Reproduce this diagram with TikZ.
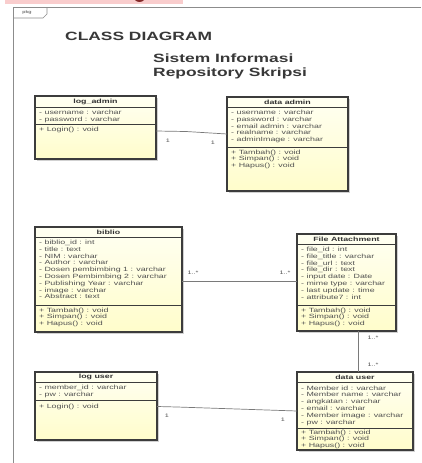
\documentclass[tikz,border=0pt]{standalone}
\usepackage{fontspec}
\setmainfont{Liberation Sans}[FakeStretch=1.45]
\usetikzlibrary{calc}
\definecolor{boxline}{HTML}{3C3C3C}
\definecolor{txt}{HTML}{505050}
\definecolor{conn}{HTML}{7A7A7A}
\definecolor{frame}{HTML}{8C8C8C}
\definecolor{pinkbar}{HTML}{F9CDCD}
\definecolor{ytop}{HTML}{FFFFF2}
\definecolor{ybot}{HTML}{FFFDCB}
\tikzset{
  cls/.style={draw=boxline, line width=1.2pt, top color=ytop, bottom color=ybot,
     inner sep=0pt, outer sep=0pt, anchor=north west},
  shadowbox/.style={fill=black!18, draw=none},
  sepline/.style={draw=boxline, line width=0.8pt},
  attr/.style={inner sep=0pt, text=txt, font=\fontsize{6.1}{6.8}\selectfont},
  ctitle/.style={inner sep=0pt, text=black!80, font=\bfseries\fontsize{6.1}{6.8}\selectfont},
  conline/.style={draw=conn, line width=0.7pt},
  mult/.style={inner sep=0pt, text=txt, font=\fontsize{5}{6}\selectfont},
  bigtitle/.style={inner sep=0pt, text=black!78, font=\bfseries\fontsize{12}{14}\selectfont, anchor=base west}
}
% lines of a compartment: #1 x, #2 first baseline, #3 list
\newcommand\clslines[3]{%
  \foreach \t [count=\i] in {#3} {\node[attr, anchor=base west] at (#1, {#2+6.8*(\i-1)}) {\t};}}
% box: #1 name, #2 x1, #3 y1, #4 x2, #5 y2, #6 sep1, #7 sep2, #8 title
\newcommand\clsbox[8]{%
  \fill[shadowbox] (#2+1.8,#3+1.8) rectangle (#4+1.8,#5+1.8);
  \node[cls, minimum width={#4-#2}, minimum height={#5-#3}] (#1) at (#2,#3) {};
  \draw[sepline] (#2,#6) -- (#4,#6);
  \draw[sepline] (#2,#7) -- (#4,#7);
  \node[ctitle] (#1-title) at ({(#2+#4)/2},{(#3+#6)/2+0.3}) {#8};}
\begin{document}
\begin{tikzpicture}[x=1pt,y=-1pt]
\useasboundingbox (0,0) rectangle (421,463);
\fill[white] (0,0) rectangle (421,463);
% cut-off heading strip above the frame (only a sliver of it is in view)
\fill[pinkbar] (5,0) rectangle (183,4);
\fill[red!40!black, opacity=0.8] (135,0) .. controls (136.5,2.6) and (142.5,2.6) .. (144,0) -- cycle;
% frame and tab
\draw[frame, line width=0.8pt] (13,463) -- (13,7) -- (421,7);
\draw[frame, line width=0.7pt] (13,18) -- (43,18) -- (47,14) -- (47,7);
\node[inner sep=0pt, text=black!70, font=\fontsize{4}{5}\selectfont] (pkg) at (27,12.5) {pkg};
% titles
\node[bigtitle] (t1) at (65,40) {CLASS DIAGRAM};
\node[bigtitle] (t2) at (153,62) {Sistem Informasi};
\node[bigtitle] (t3) at (153,76.5) {Repository Skripsi};

% log_admin
\clsbox{logadmin}{35}{96}{156}{159}{107}{124}{log\_admin}
\clslines{39}{114.5}{- username : varchar, - password : varchar}
\clslines{39}{131.5}{+ Login() : void}
% data admin
\clsbox{dataadmin}{227}{97}{348}{191}{107}{147}{data admin}
\clslines{231}{114.5}{- username : varchar, - password : varchar, - email admin : varchar, - realname : varchar, - adminImage : varchar}
\clslines{231}{154}{+ Tambah() : void, + Simpan() : void, + Hapus() : void}
% biblio
\clsbox{biblio}{35}{227}{182}{332}{237}{305}{biblio}
\clslines{39}{244.5}{- biblio\_id : int, - title : text, - NIM : varchar, - Author : varchar, - Dosen pembimbing 1 : varchar, - Dosen Pembimbing 2 : varchar, - Publishing Year : varchar, - image : varchar, - Abstract : text}
\clslines{39}{312}{+ Tambah() : void, + Simpan() : void, + Hapus() : void}
% File Attachment
\clsbox{file}{297}{234}{396}{331}{244}{305}{File Attachment}
\clslines{301}{251.5}{- file\_id : int, - file\_title : varchar, - file\_url : text, - file\_dir : text, - input date : Date, - mime type : varchar, - last update : time, - attribute7 : int}
\clslines{301}{312}{+ Tambah() : void, + Simpan() : void, + Hapus() : void}
% log user
\clsbox{loguser}{35}{372}{157}{440}{382}{400}{log user}
\clslines{39}{389.5}{- member\_id : varchar, - pw : varchar}
\clslines{39}{408}{+ Login() : void}
% data user
\clsbox{datauser}{297}{372}{413}{450}{382}{428}{data user}
\clslines{301}{390}{- Member id : varchar, - Member name : varchar, - angkatan : varchar, - email : varchar, - Member image : varchar, - pw : varchar}
\clslines{301}{434}{+ Tambah() : void, + Simpan() : void, + Hapus() : void}

% connectors
\coordinate (la1) at ($(logadmin.north east)+(0,35)$);
\coordinate (la2) at ($(dataadmin.north west)+(0,37)$);
\draw[conline] (la1) -- ($(la1)+(30,0.5)$) -- (la2);
\node[mult] (m1) at (168,141) {1};
\node[mult] (m2) at (213,142.5) {1};

\draw[conline] ($(biblio.north east)+(0,54)$) -- ($(file.north west)+(0,47)$);
\node[mult] (m3) at (193,272.5) {1..*};
\node[mult] (m4) at (285,272.5) {1..*};

\draw[conline] ($(file.south west)+(61,0)$) -- ($(datauser.north west)+(61,0)$);
\node[mult] (m5) at (373,338) {1..*};
\node[mult] (m6) at (373,364.5) {1..*};

\coordinate (lu1) at ($(loguser.north east)+(0,34.5)$);
\coordinate (lu2) at ($(datauser.north west)+(0,39)$);
\draw[conline] (lu1) -- ($(lu1)+(20,0.5)$) -- (lu2);
\node[mult] (m7) at (167,415.5) {1};
\node[mult] (m8) at (283,420) {1};
\end{tikzpicture}
\end{document}
